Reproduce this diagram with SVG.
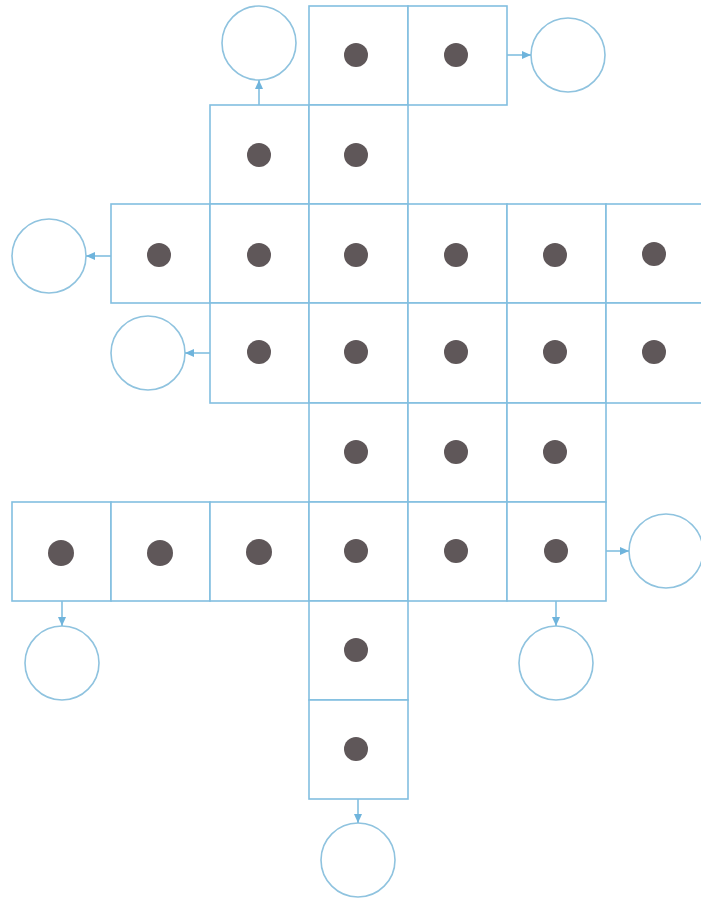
<svg xmlns="http://www.w3.org/2000/svg" width="701" height="902" viewBox="0 0 701 902">
<style>
.cell{fill:#ffffff;stroke:#82bfe0;stroke-width:1.6}
.dot{fill:#5f5759}
.ring{fill:#ffffff;stroke:#8fc3df;stroke-width:1.6}
.conn{stroke:#82bfe0;stroke-width:1.6;fill:none}
</style>
<defs>
<marker id="ah" markerUnits="userSpaceOnUse" markerWidth="9" markerHeight="8" refX="9" refY="4" orient="auto">
<path d="M0,0 L9,4 L0,8 z" fill="#6fb4dc"/>
</marker>
</defs>
<rect width="701" height="902" fill="#ffffff"/>
<g id="cells">
<g id="r0c3"><rect class="cell" x="309" y="6" width="99" height="99"/><circle class="dot" cx="356" cy="55" r="12"/></g>
<g id="r0c4"><rect class="cell" x="408" y="6" width="99" height="99"/><circle class="dot" cx="456" cy="55" r="12"/></g>
<g id="r1c2"><rect class="cell" x="210" y="105" width="99" height="99"/><circle class="dot" cx="259" cy="155" r="12"/></g>
<g id="r1c3"><rect class="cell" x="309" y="105" width="99" height="99"/><circle class="dot" cx="356" cy="155" r="12"/></g>
<g id="r2c1"><rect class="cell" x="111" y="204" width="99" height="99"/><circle class="dot" cx="159" cy="255" r="12"/></g>
<g id="r2c2"><rect class="cell" x="210" y="204" width="99" height="99"/><circle class="dot" cx="259" cy="255" r="12"/></g>
<g id="r2c3"><rect class="cell" x="309" y="204" width="99" height="99"/><circle class="dot" cx="356" cy="255" r="12"/></g>
<g id="r2c4"><rect class="cell" x="408" y="204" width="99" height="99"/><circle class="dot" cx="456" cy="255" r="12"/></g>
<g id="r2c5"><rect class="cell" x="507" y="204" width="99" height="99"/><circle class="dot" cx="555" cy="255" r="12"/></g>
<g id="r2c6"><rect class="cell" x="606" y="204" width="99" height="99"/><circle class="dot" cx="654" cy="254" r="12"/></g>
<g id="r3c2"><rect class="cell" x="210" y="303" width="99" height="100"/><circle class="dot" cx="259" cy="352" r="12"/></g>
<g id="r3c3"><rect class="cell" x="309" y="303" width="99" height="100"/><circle class="dot" cx="356" cy="352" r="12"/></g>
<g id="r3c4"><rect class="cell" x="408" y="303" width="99" height="100"/><circle class="dot" cx="456" cy="352" r="12"/></g>
<g id="r3c5"><rect class="cell" x="507" y="303" width="99" height="100"/><circle class="dot" cx="555" cy="352" r="12"/></g>
<g id="r3c6"><rect class="cell" x="606" y="303" width="99" height="100"/><circle class="dot" cx="654" cy="352" r="12"/></g>
<g id="r4c3"><rect class="cell" x="309" y="403" width="99" height="99"/><circle class="dot" cx="356" cy="452" r="12"/></g>
<g id="r4c4"><rect class="cell" x="408" y="403" width="99" height="99"/><circle class="dot" cx="456" cy="452" r="12"/></g>
<g id="r4c5"><rect class="cell" x="507" y="403" width="99" height="99"/><circle class="dot" cx="555" cy="452" r="12"/></g>
<g id="r5c0"><rect class="cell" x="12" y="502" width="99" height="99"/><circle class="dot" cx="61" cy="553" r="13"/></g>
<g id="r5c1"><rect class="cell" x="111" y="502" width="99" height="99"/><circle class="dot" cx="160" cy="553" r="13"/></g>
<g id="r5c2"><rect class="cell" x="210" y="502" width="99" height="99"/><circle class="dot" cx="259" cy="552" r="13"/></g>
<g id="r5c3"><rect class="cell" x="309" y="502" width="99" height="99"/><circle class="dot" cx="356" cy="551" r="12"/></g>
<g id="r5c4"><rect class="cell" x="408" y="502" width="99" height="99"/><circle class="dot" cx="456" cy="551" r="12"/></g>
<g id="r5c5"><rect class="cell" x="507" y="502" width="99" height="99"/><circle class="dot" cx="556" cy="551" r="12"/></g>
<g id="r6c3"><rect class="cell" x="309" y="601" width="99" height="99"/><circle class="dot" cx="356" cy="650" r="12"/></g>
<g id="r7c3"><rect class="cell" x="309" y="700" width="99" height="99"/><circle class="dot" cx="356" cy="749" r="12"/></g>
</g>
<g id="circle1"><circle class="ring" cx="259" cy="43" r="37"/></g>
<g id="circle2"><circle class="ring" cx="568" cy="55" r="37"/></g>
<g id="circle3"><circle class="ring" cx="49" cy="256" r="37"/></g>
<g id="circle4"><circle class="ring" cx="148" cy="353" r="37"/></g>
<g id="circle5"><circle class="ring" cx="666" cy="551" r="37"/></g>
<g id="circle6"><circle class="ring" cx="62" cy="663" r="37"/></g>
<g id="circle7"><circle class="ring" cx="556" cy="663" r="37"/></g>
<g id="circle8"><circle class="ring" cx="358" cy="860" r="37"/></g>
<g id="connectors">
<line class="conn" x1="259" y1="105" x2="259" y2="80" marker-end="url(#ah)"/>
<line class="conn" x1="507" y1="55" x2="531" y2="55" marker-end="url(#ah)"/>
<line class="conn" x1="111" y1="256" x2="86" y2="256" marker-end="url(#ah)"/>
<line class="conn" x1="210" y1="353" x2="185" y2="353" marker-end="url(#ah)"/>
<line class="conn" x1="606" y1="551" x2="629" y2="551" marker-end="url(#ah)"/>
<line class="conn" x1="62" y1="601" x2="62" y2="626" marker-end="url(#ah)"/>
<line class="conn" x1="556" y1="601" x2="556" y2="626" marker-end="url(#ah)"/>
<line class="conn" x1="358" y1="799" x2="358" y2="823" marker-end="url(#ah)"/>
</g>
</svg>
